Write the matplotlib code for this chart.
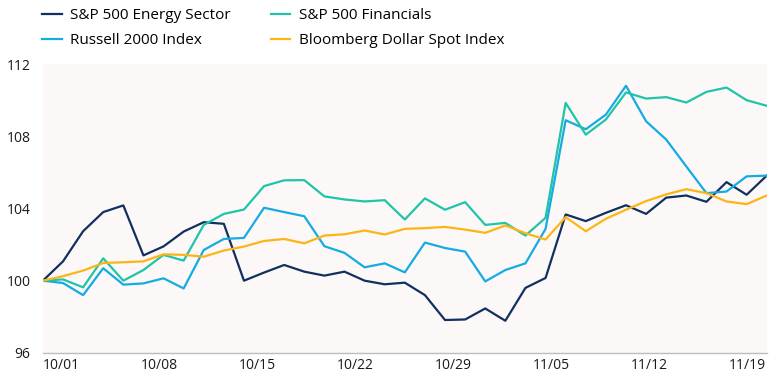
import matplotlib
matplotlib.use("Agg")
from matplotlib import pyplot as plt
import numpy as np

# trading days 10/01 -> 11/20, indexed to 100
tick_labels = ['10/01', '10/08', '10/15', '10/22', '10/29', '11/05', '11/12', '11/19']

energy = [100.0, 101.07, 102.74, 103.8, 104.17, 101.4, 101.9, 102.72, 103.24, 103.15,
          100.0, 100.45, 100.87, 100.5, 100.28, 100.5, 100.0, 99.8, 99.89, 99.2,
          97.82, 97.85, 98.46, 97.78, 99.6, 100.15, 103.67, 103.3, 103.76, 104.18,
          103.7, 104.6, 104.72, 104.37, 105.46, 104.76, 105.82]
financials = [100.0, 100.07, 99.63, 101.24, 100.0, 100.59, 101.43, 101.11, 103.09, 103.7,
              103.94, 105.24, 105.56, 105.57, 104.67, 104.5, 104.39, 104.46, 103.39, 104.56,
              103.93, 104.35, 103.09, 103.2, 102.5, 103.48, 109.85, 108.09, 108.93, 110.43,
              110.09, 110.17, 109.87, 110.46, 110.7, 110.0, 109.69]
russell = [100.0, 99.87, 99.2, 100.69, 99.78, 99.85, 100.13, 99.57, 101.7, 102.31,
           102.37, 104.04, 103.8, 103.57, 101.91, 101.54, 100.74, 100.96, 100.46, 102.11,
           101.81, 101.61, 99.96, 100.59, 100.96, 102.87, 108.89, 108.39, 109.2, 110.8,
           108.83, 107.82, 106.33, 104.85, 104.94, 105.78, 105.82]
dollar = [100.0, 100.25, 100.56, 100.98, 101.02, 101.07, 101.46, 101.43, 101.33, 101.67,
          101.89, 102.2, 102.31, 102.07, 102.5, 102.57, 102.78, 102.56, 102.87, 102.91,
          102.98, 102.83, 102.65, 103.06, 102.63, 102.28, 103.52, 102.74, 103.43, 103.93,
          104.41, 104.78, 105.07, 104.85, 104.39, 104.24, 104.72]

plt.rcParams['font.family'] = ['Open Sans', 'DejaVu Sans']

x = np.arange(len(energy))

fig = plt.figure(figsize=(7.8, 3.77), dpi=100)
ax = fig.add_axes([0.055, 0.064, 0.928, 0.766])
ax.set_facecolor('#fbf8f7')

ax.plot(x, energy, color='#12305f', lw=1.6, label='S&P 500 Energy Sector')
ax.plot(x, russell, color='#15abe3', lw=1.6, label='Russell 2000 Index')
ax.plot(x, financials, color='#20c4a8', lw=1.6, label='S&P 500 Financials')
ax.plot(x, dollar, color='#fdb515', lw=1.6, label='Bloomberg Dollar Spot Index')

ax.set_xlim(0, len(energy) - 1)
ax.set_ylim(96, 112)
ax.set_yticks([96, 100, 104, 108, 112])
ax.set_xticks(0.9 + 4.88 * np.arange(len(tick_labels)))
ax.set_xticklabels(tick_labels)
ax.tick_params(axis='both', length=0, labelsize=10, colors='#1a1a1a')
ax.tick_params(axis='x', pad=4)
ax.tick_params(axis='y', pad=9)

for s in ['top', 'right', 'left']:
    ax.spines[s].set_visible(False)
ax.spines['bottom'].set_color('#bdbdbd')
ax.spines['bottom'].set_linewidth(1.0)

fig.legend(loc='upper left', bbox_to_anchor=(0.046, 0.994), ncol=2, frameon=False,
           fontsize=11, handlelength=1.3, handletextpad=0.55, columnspacing=2.6,
           labelspacing=0.63, borderaxespad=0, borderpad=0.4)

fig.savefig('out.png', dpi=100)
